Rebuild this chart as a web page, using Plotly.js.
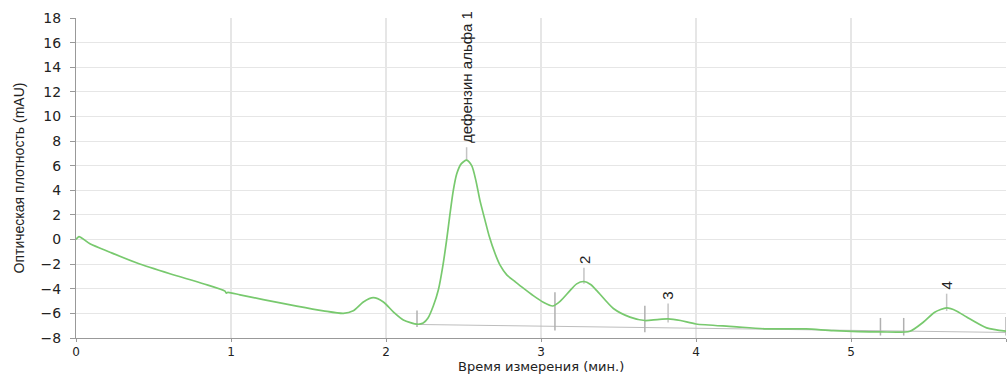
<!DOCTYPE html>
<html>
<head>
<meta charset="utf-8">
<script src="https://cdn.plot.ly/plotly-3.0.1.min.js"></script>
<style>html,body{margin:0;padding:0;background:#fff;}#chart{width:1008px;height:374px;}</style>
</head>
<body>
<div id="chart"></div>
<script>
// Chromatogram trace (time in minutes, optical density in mAU)
const timeMin = [0, 0.019, 0.09, 0.219, 0.39, 0.606, 0.821, 0.961, 0.97, 0.98, 1.058, 1.208, 1.424, 1.596, 1.725, 1.789, 1.854, 1.918, 1.983, 2.047, 2.112, 2.202, 2.24, 2.27, 2.305, 2.338, 2.366, 2.391, 2.413, 2.434, 2.456, 2.485, 2.52, 2.553, 2.58, 2.606, 2.639, 2.667, 2.703, 2.735, 2.779, 2.832, 2.886, 2.95, 3.015, 3.075, 3.123, 3.187, 3.23, 3.277, 3.32, 3.36, 3.467, 3.574, 3.67, 3.75, 3.82, 3.9, 4.0, 4.24, 4.456, 4.71, 4.886, 5.187, 5.38, 5.466, 5.54, 5.617, 5.68, 5.746, 5.875, 6.0];
const absorbance = [0, 0.24, -0.35, -1.03, -1.89, -2.78, -3.59, -4.19, -4.35, -4.3, -4.49, -4.88, -5.41, -5.79, -6.0, -5.79, -5.07, -4.72, -5.07, -5.87, -6.53, -6.88, -6.78, -6.4, -5.4, -4.08, -2.2, -0.05, 2.1, 3.98, 5.33, 6.15, 6.45, 6.0, 4.79, 3.18, 1.56, 0.22, -1.12, -2.06, -2.87, -3.41, -3.95, -4.56, -5.1, -5.4, -5.02, -4.15, -3.6, -3.41, -3.65, -4.15, -5.6, -6.3, -6.58, -6.5, -6.45, -6.58, -6.86, -7.07, -7.26, -7.26, -7.4, -7.5, -7.45, -6.72, -5.9, -5.56, -5.8, -6.3, -7.18, -7.45];

// Integration baseline
const baselineTime = [2.2, 6.0];
const baselineValue = [-6.9, -7.55];

// Peak boundary markers
const boundaryTime = [2.2, 3.09, 3.67, 5.19, 5.34, 6.0];
const boundaryTop = [-5.77, -4.28, -5.37, -6.37, -6.37, -6.3];
const boundaryBottom = [-7.1, -7.4, -7.53, -7.8, -7.8, -7.8];

// Peak apex markers and labels
const peakTime = [2.52, 3.277, 3.82, 5.617];
const peakLabel = ['дефензин альфа 1', '2', '3', '4'];
const peakMarkBottom = [6.4, -3.6, -6.75, -5.8];
const peakMarkTop = [7.5, -2.3, -5.2, -4.4];

const xTickVals = [0, 1, 2, 3, 4, 5, 6];
const yTickVals = [-8, -6, -4, -2, 0, 2, 4, 6, 8, 10, 12, 14, 16, 18];
const xTitle = 'Время измерения (мин.)';
const yTitle = 'Оптическая плотность (mAU)';

function segments(xs, y0s, y1s) {
  const x = [], y = [];
  xs.forEach((v, i) => { x.push(v, v, null); y.push(y0s[i], y1s[i], null); });
  return {x, y};
}
const bSeg = segments(boundaryTime, boundaryBottom, boundaryTop);
const pSeg = segments(peakTime, peakMarkBottom, peakMarkTop);

const traces = [
  {x: baselineTime, y: baselineValue, mode: 'lines', line: {color: '#bdbdbd', width: 1}, hoverinfo: 'skip'},
  {x: bSeg.x, y: bSeg.y, mode: 'lines', line: {color: '#b0b0b0', width: 1.5}, hoverinfo: 'skip', connectgaps: false},
  {x: pSeg.x, y: pSeg.y, mode: 'lines', line: {color: '#c4c4c4', width: 1.5}, hoverinfo: 'skip', connectgaps: false},
  {x: timeMin, y: absorbance, mode: 'lines', line: {color: '#78c96e', width: 1.7, shape: 'spline', smoothing: 0.7}}
];

const annotations = peakTime.map((t, i) => ({
  x: t, y: peakMarkTop[i] + 0.15, xref: 'x', yref: 'y',
  text: peakLabel[i], showarrow: false, textangle: -90,
  xanchor: 'center', yanchor: 'bottom',
  font: {family: 'Liberation Sans Narrow, Arial Narrow, sans-serif', size: 15, color: '#222'}
}));
annotations.push({
  x: 0.5, y: -0.09, xref: 'paper', yref: 'paper', text: xTitle, showarrow: false,
  xanchor: 'center', yanchor: 'middle', borderpad: 0,
  font: {family: 'DejaVu Sans, sans-serif', size: 13, color: '#222'}
});

const layout = {
  width: 1008, height: 374,
  margin: {l: 76, r: 2, t: 18, b: 36},
  paper_bgcolor: '#fff', plot_bgcolor: '#fff',
  showlegend: false,
  xaxis: {
    range: [0, 6], tickvals: xTickVals, ticks: 'outside', ticklen: 3, tickcolor: '#999',
    showline: true, linecolor: '#999', linewidth: 1,
    showgrid: true, gridcolor: '#e6e6e6', gridwidth: 1.5, zeroline: false,
    ticklabelstandoff: 0,
    tickfont: {family: 'DejaVu Sans, sans-serif', size: 12, color: '#222'}
  },
  yaxis: {
    range: [-8, 18], tickvals: yTickVals, ticks: 'outside', ticklen: 5, tickcolor: '#999',
    showline: true, linecolor: '#999', linewidth: 1,
    showgrid: true, gridcolor: '#e6e6e6', gridwidth: 1, zeroline: false,
    ticklabelstandoff: 6,
    tickfont: {family: 'DejaVu Sans, sans-serif', size: 14, color: '#222'},
    title: {text: yTitle, standoff: 12, font: {family: 'Liberation Sans Narrow, Arial Narrow, sans-serif', size: 14, color: '#222'}}
  },
  annotations: annotations
};

Plotly.newPlot('chart', traces, layout, {displayModeBar: false, staticPlot: true});
</script>
</body>
</html>
